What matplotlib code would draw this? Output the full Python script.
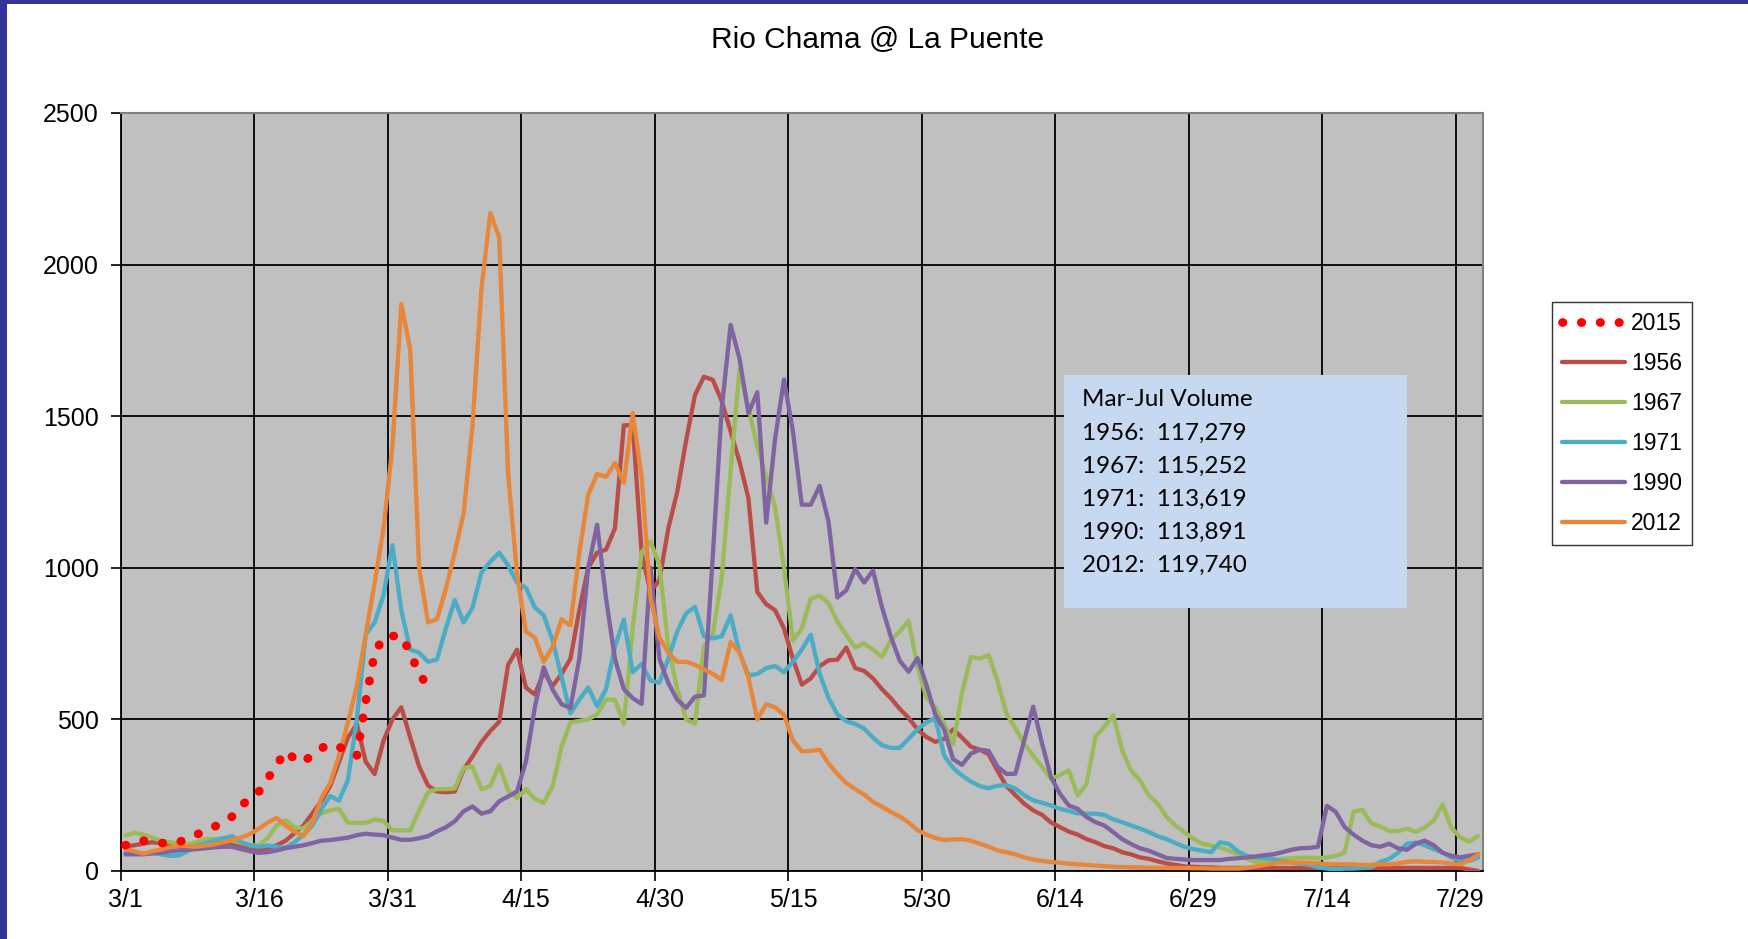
import numpy as np
import matplotlib
matplotlib.use("Agg")
import matplotlib.pyplot as plt
from matplotlib.patches import Rectangle

# ---------------- data (daily flow, cfs; index 0 = 3/1) ----------------
tick_labels = ["3/1", "3/16", "3/31", "4/15", "4/30", "5/15", "5/30",
               "6/14", "6/29", "7/14", "7/29"]
n_days = 153

y2015 = [85, 95, 100, 95, 92, 93, 95, 108, 120, 133, 146, 162, 180, 215, 240,
         262, 305, 350, 395, 370, 358, 385, 405, 418, 410, 393, 380, 560, 720,
         770, 775, 775, 720, 650, 610]

y1956 = [80, 85, 90, 95, 92, 88, 82, 80, 82, 85, 88, 90, 88, 82, 75, 70, 75, 85,
         100, 125, 150, 190, 230, 280, 360, 440, 485, 360, 320, 430, 500, 540,
         440, 345, 282, 262, 260, 262, 335, 378, 425, 462, 492, 680, 730, 605,
         582, 656, 610, 650, 700, 860, 1000, 1050, 1060, 1130, 1470, 1470, 1050,
         920, 960, 1130, 1250, 1420, 1570, 1630, 1620, 1550, 1450, 1350, 1230,
         920, 880, 860, 800, 700, 615, 635, 675, 695, 697, 737, 669, 660, 635,
         600, 570, 535, 505, 467, 442, 426, 436, 467, 440, 410, 400, 385, 330,
         280, 250, 222, 200, 185, 160, 145, 130, 120, 105, 95, 82, 75, 62, 55,
         45, 40, 32, 25, 20, 15, 14, 12, 12, 10, 10, 10, 10, 10, 10, 10, 10, 10,
         10, 10, 10, 10, 10, 10, 10, 10, 10, 10, 10, 10, 10, 10, 10, 10, 10, 10,
         10, 5, 0]

y1967 = [117, 126, 120, 110, 100, 95, 90, 88, 95, 105, 106, 108, 100, 93, 86, 84,
         110, 150, 168, 143, 141, 165, 190, 200, 205, 159, 159, 159, 170, 165,
         134, 134, 134, 200, 260, 270, 270, 272, 340, 344, 270, 280, 350, 265,
         240, 270, 238, 225, 280, 410, 490, 495, 500, 517, 565, 565, 486, 801,
         1051, 1086, 1010, 740, 600, 500, 486, 740, 780, 968, 1320, 1656, 1530,
         1400, 1300, 1200, 1000, 760, 800, 898, 908, 884, 822, 779, 737, 751,
         730, 706, 760, 790, 825, 675, 571, 540, 485, 418, 589, 706, 700, 712,
         626, 520, 470, 420, 380, 343, 304, 316, 332, 249, 288, 443, 476, 514,
         398, 332, 299, 249, 222, 178, 150, 128, 106, 90, 84, 78, 67, 55, 40, 30,
         30, 35, 40, 42, 44, 44, 42, 45, 50, 61, 196, 201, 157, 147, 132, 132,
         140, 129, 143, 166, 219, 143, 110, 97, 116]

y1971 = [60, 58, 58, 60, 55, 50, 52, 65, 82, 92, 100, 108, 115, 95, 84, 80, 84,
         80, 77, 95, 120, 150, 203, 247, 232, 300, 500, 780, 820, 910, 1075, 860,
         730, 720, 690, 697, 800, 893, 820, 869, 984, 1020, 1050, 1008, 951, 934,
         869, 844, 760, 640, 520, 565, 605, 544, 600, 740, 829, 656, 683, 628,
         621, 700, 790, 850, 871, 774, 767, 774, 843, 720, 645, 650, 669, 676,
         656, 690, 730, 779, 651, 571, 516, 494, 485, 470, 440, 415, 406, 406,
         436, 467, 490, 504, 380, 340, 315, 295, 280, 273, 281, 283, 272, 250,
         233, 225, 216, 205, 198, 190, 189, 189, 185, 170, 161, 150, 140, 128,
         115, 105, 92, 80, 72, 67, 62, 95, 89, 65, 50, 45, 42, 39, 32, 28, 24, 20,
         12, 8, 6, 8, 8, 10, 11, 30, 40, 60, 90, 94, 85, 72, 61, 44, 35, 33, 44]

y1990 = [55, 55, 55, 58, 60, 65, 68, 70, 72, 75, 78, 80, 80, 72, 65, 60, 62, 68,
         75, 80, 85, 92, 100, 102, 106, 110, 118, 123, 120, 118, 110, 103, 103,
         108, 115, 131, 144, 164, 197, 213, 189, 197, 230, 246, 262, 361, 540,
         672, 598, 550, 538, 700, 1000, 1142, 900, 700, 600, 570, 551, 1000, 700,
         620, 565, 538, 575, 579, 1040, 1524, 1801, 1690, 1510, 1579, 1149, 1426,
         1621, 1450, 1208, 1208, 1270, 1153, 902, 926, 996, 951, 991, 871, 773,
         694, 657, 702, 614, 516, 467, 369, 350, 387, 400, 396, 344, 320, 321,
         432, 542, 420, 310, 255, 216, 205, 178, 161, 150, 128, 105, 89, 75, 67,
         55, 43, 40, 38, 36, 36, 36, 36, 40, 42, 45, 48, 52, 55, 62, 70, 75, 76,
         80, 215, 195, 145, 120, 100, 85, 80, 90, 75, 70, 90, 100, 85, 60, 50, 45,
         50, 55]

y2012 = [73, 65, 57, 65, 71, 78, 84, 82, 80, 84, 88, 95, 102, 110, 122, 140, 160,
         175, 150, 130, 115, 160, 240, 290, 380, 490, 610, 780, 950, 1130, 1400,
         1870, 1720, 1000, 820, 830, 930, 1050, 1180, 1470, 1920, 2170, 2090,
         1310, 980, 790, 770, 690, 740, 830, 810, 1050, 1240, 1310, 1300, 1345,
         1280, 1510, 1300, 900, 770, 720, 690, 690, 680, 665, 650, 630, 755, 720,
         640, 500, 550, 540, 515, 430, 395, 396, 400, 355, 320, 290, 270, 252,
         228, 212, 195, 180, 160, 135, 120, 109, 102, 104, 105, 100, 90, 80, 68,
         62, 55, 45, 38, 33, 30, 27, 24, 22, 20, 18, 16, 14, 13, 12, 12, 11, 11,
         10, 10, 10, 9, 9, 8, 8, 8, 8, 10, 15, 20, 25, 28, 28, 28, 27, 25, 22, 22,
         22, 22, 20, 20, 22, 22, 25, 30, 32, 30, 30, 28, 25, 22, 35, 55]

series_names = ["1956", "1967", "1971", "1990", "2012"]
series_values = [y1956, y1967, y1971, y1990, y2012]
series_colors = ["#BA4D48", "#9BBB59", "#4BACC6", "#8064A2", "#E8873A"]

volume_lines = ["Mar-Jul Volume", "1956:  117,279", "1967:  115,252",
                "1971:  113,619", "1990:  113,891", "2012:  119,740"]

# ---------------- figure ----------------
W, H = 1749, 939
fig = plt.figure(figsize=(W / 100, H / 100), dpi=100)
fig.patch.set_facecolor("white")

# blue frame (left and top)
fig.patches.append(Rectangle((0, 0), 7 / W, 1, transform=fig.transFigure,
                             facecolor="#333399", edgecolor="none", zorder=0))
fig.patches.append(Rectangle((0, 1 - 4 / H), 1, 4 / H, transform=fig.transFigure,
                             facecolor="#333399", edgecolor="none", zorder=0))

ax_l, ax_r, ax_t, ax_b = 121, 1482.6, 113, 871
ax = fig.add_axes([ax_l / W, 1 - ax_b / H, (ax_r - ax_l) / W, (ax_b - ax_t) / H])
ax.set_facecolor("#C0C0C0")

font = "Liberation Sans"

for name, vals, col in zip(series_names, series_values, series_colors):
    x = np.arange(len(vals)) + 0.5
    ax.plot(x, vals, color=col, lw=3.1, solid_joinstyle="round",
            solid_capstyle="round", label=name, zorder=3)

x15 = np.arange(len(y2015)) + 0.5
line2015, = ax.plot(x15, y2015, color="#FF0000", lw=6.3,
                    linestyle=(0, (0.05, 2.1)), dash_capstyle="round",
                    label="2015", zorder=4)

ax.set_xlim(0, n_days)
ax.set_ylim(0, 2500)

# gridlines at category boundaries, labels centred on categories
ax.set_xticks(np.arange(0, 151, 15))
ax.set_xticks(np.arange(0, 151, 15) + 0.5, minor=True)
ax.set_xticklabels([])
ax.set_xticklabels(tick_labels, minor=True, fontsize=18, family=font)
ax.tick_params(axis="x", which="major", length=7, width=1.2, color="black",
               direction="out")
ax.tick_params(axis="x", which="minor", length=0, pad=12)
ax.set_yticks(np.arange(0, 2501, 500))
ax.set_yticklabels([str(v) for v in range(0, 2501, 500)], fontsize=18,
                   family=font)
ax.tick_params(axis="y", length=7, width=1.2, color="black", direction="out",
               pad=9)

ax.grid(True, which="major", color="black", lw=1.3, zorder=1)
ax.set_axisbelow(True)
for s in ["left", "bottom"]:
    ax.spines[s].set_color("black")
    ax.spines[s].set_linewidth(1.3)
for s in ["top", "right"]:
    ax.spines[s].set_color("#808080")
    ax.spines[s].set_linewidth(1.5)

# title
fig.text(878 / W, 1 - 40 / H, "Rio Chama @ La Puente", ha="center",
         va="center", fontsize=21.5, family=font)

# volume box
bx0, bx1, by0, by1 = 1064, 1407, 375, 608
fig.patches.append(Rectangle((bx0 / W, 1 - by1 / H), (bx1 - bx0) / W,
                             (by1 - by0) / H, transform=fig.transFigure,
                             facecolor="#C6D9F0", edgecolor="none", zorder=5))
for k, txt in enumerate(volume_lines):
    fig.text(1082 / W, 1 - (400 + 33 * k) / H, txt, ha="left", va="center",
             fontsize=17.5, family="Lato", zorder=6)

# legend
handles = [line2015] + [l for l in ax.get_lines()[:5]]
labels = ["2015"] + series_names
leg = fig.legend(handles, labels, loc="upper left",
                 bbox_to_anchor=(1552 / W, 1 - 302 / H), frameon=True,
                 fancybox=False, edgecolor="black", handlelength=2.75,
                 handletextpad=0.25, labelspacing=0.74, borderpad=0.45,
                 borderaxespad=0, prop={"family": font, "size": 16.5})
leg.get_frame().set_linewidth(1.0)

fig.savefig("out.png", dpi=100, facecolor="white")
